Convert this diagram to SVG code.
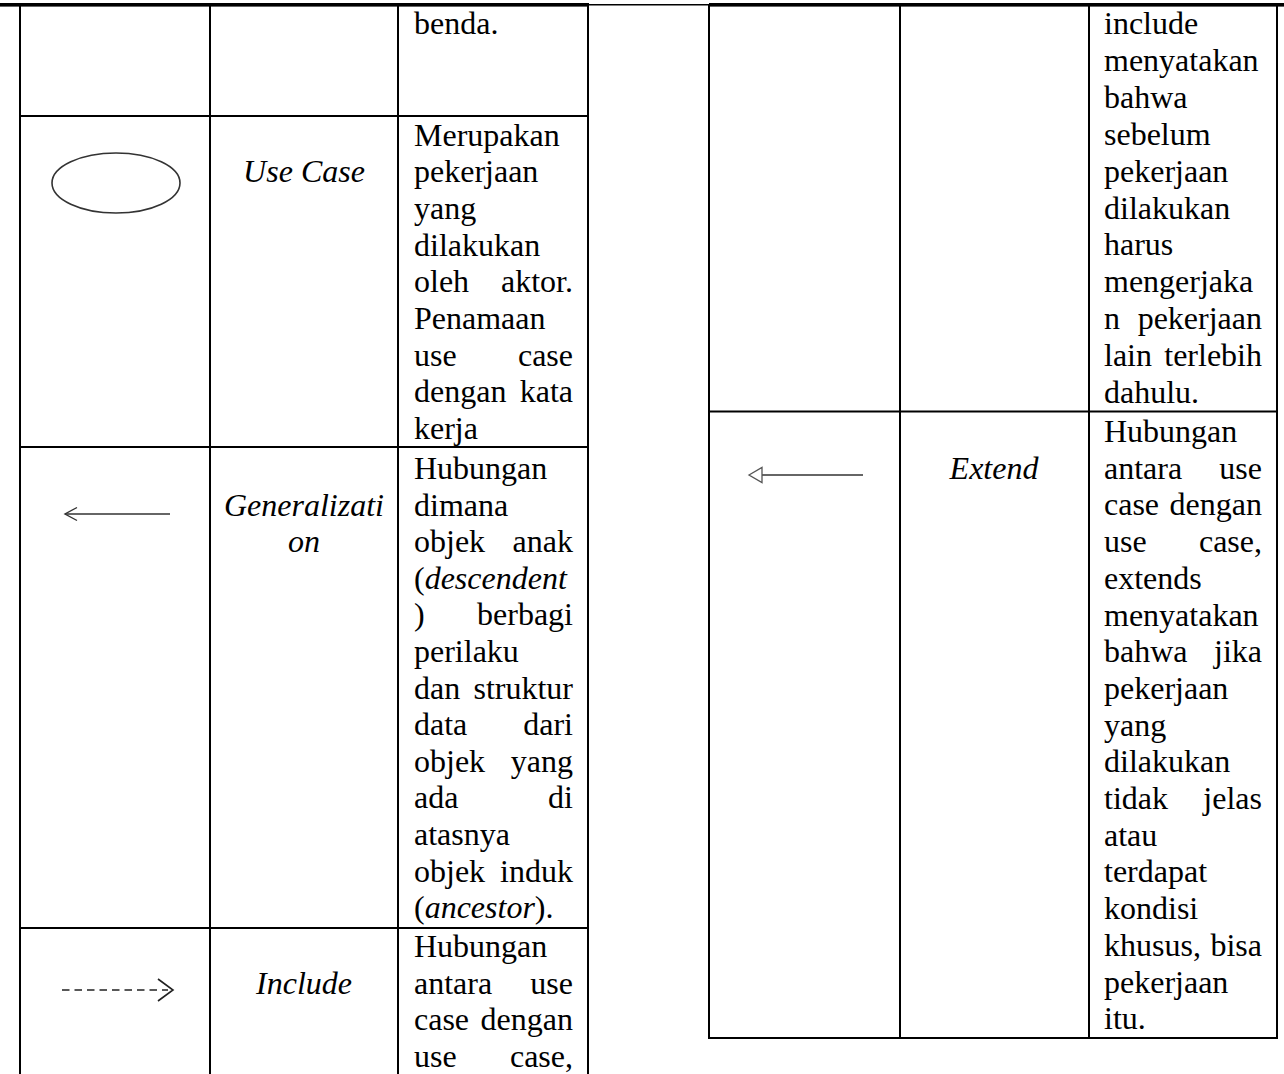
<svg xmlns="http://www.w3.org/2000/svg" width="1284" height="1074" viewBox="0 0 1284 1074">
<style>
.t{font-family:"Liberation Serif","Times New Roman",serif;font-size:32px;fill:#000}
.i{font-style:italic}
.c{text-anchor:middle}
.r{text-anchor:end}
.g line{stroke:#000;stroke-width:2}
.sym{fill:none;stroke:#333;stroke-width:1.4}
</style>
<rect width="1284" height="1074" fill="#fff"/>
<g id="grid" class="g">
  <rect x="0" y="3" width="589" height="3.6" fill="#000"/>
  <rect x="709" y="3" width="575" height="3.6" fill="#000"/>
  <line x1="589" y1="4.7" x2="709" y2="4.7" style="stroke-width:1.4"/>
  <line x1="20" y1="5" x2="20" y2="1074"/>
  <line x1="210" y1="5" x2="210" y2="1074"/>
  <line x1="398" y1="5" x2="398" y2="1074"/>
  <line x1="588" y1="5" x2="588" y2="1074"/>
  <line x1="20" y1="116" x2="588" y2="116"/>
  <line x1="20" y1="447" x2="588" y2="447"/>
  <line x1="20" y1="928" x2="588" y2="928"/>
  <line x1="709" y1="5" x2="709" y2="1039"/>
  <line x1="900" y1="5" x2="900" y2="1039"/>
  <line x1="1089" y1="5" x2="1089" y2="1039"/>
  <line x1="1277" y1="5" x2="1277" y2="1039"/>
  <line x1="708" y1="411.5" x2="1278" y2="411.5"/>
  <line x1="708" y1="1038" x2="1278" y2="1038"/>
</g>
<g id="row-benda" class="t">
  <text x="414" y="34">benda.</text>
</g>
<g id="row-usecase" class="t">
  <ellipse class="sym" cx="116" cy="183" rx="64" ry="30" style="stroke-width:1.6"/>
  <text class="i c" x="304" y="182.2">Use Case</text>
  <text x="414" y="145.5">Merupakan</text>
  <text x="414" y="182.2">pekerjaan</text>
  <text x="414" y="218.9">yang</text>
  <text x="414" y="255.6">dilakukan</text>
  <text x="414" y="292.3">oleh</text><text class="r" x="573" y="292.3">aktor.</text>
  <text x="414" y="329">Penamaan</text>
  <text x="414" y="365.7">use</text><text class="r" x="573" y="365.7">case</text>
  <text x="414" y="402.4">dengan</text><text class="r" x="573" y="402.4">kata</text>
  <text x="414" y="439.1">kerja</text>
</g>
<g id="row-generalization" class="t">
  <line class="sym" x1="65" y1="514" x2="170" y2="514"/>
  <polyline class="sym" points="77,507.5 65,514 77,520.5"/>
  <text class="i c" x="304" y="515.6">Generalizati</text>
  <text class="i c" x="304" y="552.2">on</text>
  <text x="414" y="479">Hubungan</text>
  <text x="414" y="515.6">dimana</text>
  <text x="414" y="552.2">objek</text><text class="r" x="573" y="552.2">anak</text>
  <text x="414" y="588.8">(<tspan class="i">descendent</tspan></text>
  <text x="414" y="625.4">)</text><text class="r" x="573" y="625.4">berbagi</text>
  <text x="414" y="662">perilaku</text>
  <text x="414" y="698.6">dan</text><text class="r" x="573" y="698.6">struktur</text>
  <text x="414" y="735.2">data</text><text class="r" x="573" y="735.2">dari</text>
  <text x="414" y="771.8">objek</text><text class="r" x="573" y="771.8">yang</text>
  <text x="414" y="808.4">ada</text><text class="r" x="573" y="808.4">di</text>
  <text x="414" y="845">atasnya</text>
  <text x="414" y="881.6">objek</text><text class="r" x="573" y="881.6">induk</text>
  <text x="414" y="918.2">(<tspan class="i">ancestor</tspan>).</text>
</g>
<g id="row-include" class="t">
  <line x1="62" y1="990" x2="168" y2="990" style="stroke:#222;stroke-width:1.6;stroke-dasharray:7.5 5"/>
  <polyline points="158,979 173,990 158,1001" style="fill:none;stroke:#222;stroke-width:1.6"/>
  <text class="i c" x="304" y="993.7">Include</text>
  <text x="414" y="957">Hubungan</text>
  <text x="414" y="993.7">antara</text><text class="r" x="573" y="993.7">use</text>
  <text x="414" y="1030.4">case</text><text class="r" x="573" y="1030.4">dengan</text>
  <text x="414" y="1067.1">use</text><text class="r" x="573" y="1067.1">case,</text>
</g>
<g id="row-include-cont" class="t">
  <text x="1104" y="34">include</text>
  <text x="1104" y="70.9">menyatakan</text>
  <text x="1104" y="107.8">bahwa</text>
  <text x="1104" y="144.7">sebelum</text>
  <text x="1104" y="181.6">pekerjaan</text>
  <text x="1104" y="218.5">dilakukan</text>
  <text x="1104" y="255.4">harus</text>
  <text x="1104" y="292.3">mengerjaka</text>
  <text x="1104" y="329.2">n</text><text class="r" x="1262" y="329.2">pekerjaan</text>
  <text x="1104" y="366.1">lain</text><text class="r" x="1262" y="366.1">terlebih</text>
  <text x="1104" y="403">dahulu.</text>
</g>
<g id="row-extend" class="t">
  <line class="sym" x1="762" y1="475" x2="863" y2="475"/>
  <polygon points="749,475 762,467.5 762,482.5" style="fill:#fff;stroke:#555;stroke-width:1.3"/>
  <text class="i c" x="994" y="478.7">Extend</text>
  <text x="1104" y="442">Hubungan</text>
  <text x="1104" y="478.7">antara</text><text class="r" x="1262" y="478.7">use</text>
  <text x="1104" y="515.4">case</text><text class="r" x="1262" y="515.4">dengan</text>
  <text x="1104" y="552.1">use</text><text class="r" x="1262" y="552.1">case,</text>
  <text x="1104" y="588.8">extends</text>
  <text x="1104" y="625.5">menyatakan</text>
  <text x="1104" y="662.2">bahwa</text><text class="r" x="1262" y="662.2">jika</text>
  <text x="1104" y="698.9">pekerjaan</text>
  <text x="1104" y="735.6">yang</text>
  <text x="1104" y="772.3">dilakukan</text>
  <text x="1104" y="809">tidak</text><text class="r" x="1262" y="809">jelas</text>
  <text x="1104" y="845.7">atau</text>
  <text x="1104" y="882.4">terdapat</text>
  <text x="1104" y="919.1">kondisi</text>
  <text x="1104" y="955.8">khusus,</text><text class="r" x="1262" y="955.8">bisa</text>
  <text x="1104" y="992.5">pekerjaan</text>
  <text x="1104" y="1029.2">itu.</text>
</g>
</svg>
